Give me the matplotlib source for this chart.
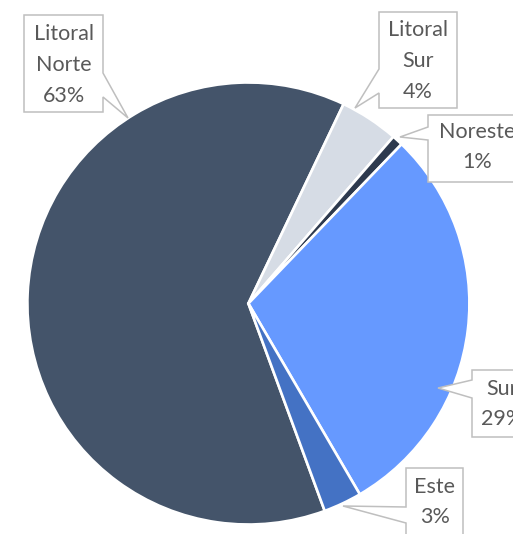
import matplotlib
matplotlib.use("Agg")
import matplotlib.pyplot as plt
from matplotlib.patches import Polygon

# ---- data ----
regions = ["Litoral Norte", "Litoral Sur", "Noreste", "Sur", "Este"]
values = [62.7, 4.3, 0.8, 29.4, 2.8]
label_names = ["Litoral\nNorte", "Litoral\nSur", "Noreste", "Sur", "Este"]
colors = ["#44546A", "#D6DCE5", "#2E3A4E", "#6699FF", "#4472C4"]

W, H = 513, 534
fig = plt.figure(figsize=(W / 100, H / 100), dpi=100)
ax = fig.add_axes([0, 0, 1, 1])

cx, cy, R = 248.4, 303.5, 221.0  # pixel layout (image coords)
ax.pie(values, colors=colors, center=(cx, H - cy), radius=R,
       startangle=90 - 159.8, counterclock=False,
       wedgeprops=dict(edgecolor="white", linewidth=1.9), frame=True)
ax.set_xlim(0, W)
ax.set_ylim(0, H)
ax.set_aspect("auto")
ax.axis("off")

# callout layout: box (x0, y0, x1, y1), side of pointer, pointer base (ya, yb), tip, text centre
layout = {
    "Litoral Norte": ((24, 15, 103, 112), "right", (73, 97), (128, 118), (63.5, 65)),
    "Litoral Sur": ((379, 12, 457, 108), "left", (69, 93), (355, 108), (418, 61)),
    "Noreste": ((428, 115, 522, 182), "left", (127, 140), (400, 137), (477, 147)),
    "Sur": ((472, 370, 530, 437), "left", (380, 398), (438, 388), (502, 404)),
    "Este": ((406, 468, 463, 538), "left", (507, 523), (343, 506), (435, 502)),
}

def callout(box, side, base, tip):
    x0, y0, x1, y1 = box
    ya, yb = base
    if side == "right":
        pts = [(x0, y0), (x1, y0), (x1, ya), tip, (x1, yb), (x1, y1), (x0, y1)]
    else:
        pts = [(x0, y0), (x1, y0), (x1, y1), (x0, y1), (x0, yb), tip, (x0, ya)]
    pts = [(x, H - y) for x, y in pts]
    ax.add_patch(Polygon(pts, closed=True, facecolor="white",
                         edgecolor="#BFBFBF", linewidth=1.1, zorder=5))

for name, lname, v in zip(regions, label_names, values):
    box, side, base, tip, tc = layout[name]
    callout(box, side, base, tip)
    ax.text(tc[0], H - tc[1], f"{lname}\n{round(v)}%", ha="center", va="center",
            fontsize=15.5, family=["Lato", "DejaVu Sans"], color="#595959",
            linespacing=1.68, zorder=6)

fig.savefig("out.png", dpi=100)
